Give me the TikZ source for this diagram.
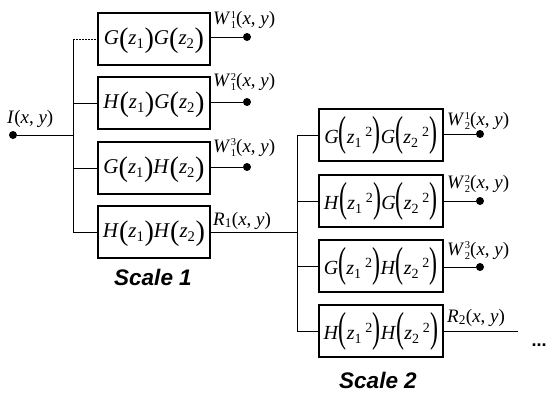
\documentclass[tikz,border=0pt]{standalone}
\usepackage{fontspec}
\usepackage{graphicx}
\setmainfont{Liberation Serif}
\newfontfamily\labsans{Liberation Sans}

% tall parentheses for the filter products
\newcommand\lpa{\raisebox{-3pt}{\scalebox{1.35}[1.35]{(}}}
\newcommand\rpa{\raisebox{-3pt}{\scalebox{1.35}[1.35]{)}}}
\newcommand\lpb{\raisebox{-2pt}{\scalebox{1.2}[2.1]{(}}}
\newcommand\rpb{\raisebox{-2pt}{\scalebox{1.2}[2.1]{)}}}
% stacked sub/superscript
\newcommand\sbsp[2]{\kern0.5pt\raisebox{-4pt}{\shortstack[l]{\fontsize{10.5}{11.5}\selectfont #2\\\fontsize{10.5}{11.5}\selectfont #1}}}
\newcommand\zz[1]{\textit{z}\textsubscript{#1}}
\newcommand\zq[1]{\textit{z}\textsubscript{#1}\,\textsuperscript{2}}

\begin{document}
\begin{tikzpicture}[x=1pt,y=-1pt,
  filt/.style={draw,line width=1.9pt,inner sep=0pt,anchor=north west},
  fa/.style={filt,minimum width=112pt,text height=32pt,text depth=20pt,
    font=\fontsize{21}{21}\selectfont},
  fb/.style={filt,minimum width=124pt,text height=35pt,text depth=17pt,
    font=\fontsize{20}{20}\selectfont},
  wire/.style={line width=0.9pt},
  dot/.style={circle,fill,inner sep=0pt,minimum size=8pt},
  lab/.style={anchor=base west,inner sep=0pt,font=\fontsize{19}{19}\selectfont},
  scl/.style={anchor=base,inner sep=0pt,
    font=\labsans\bfseries\itshape\fontsize{22.5}{22.5}\selectfont}]
\useasboundingbox (0,0) rectangle (551,397);

% first decomposition level
\node[fa] (a1) at (97,12)  {\textit{G}\lpa\zz1\rpa\textit{G}\lpa\zz2\rpa};
\node[fa] (a2) at (97,76)  {\textit{H}\lpa\zz1\rpa\textit{G}\lpa\zz2\rpa};
\node[fa] (a3) at (97,141) {\textit{G}\lpa\zz1\rpa\textit{H}\lpa\zz2\rpa};
\node[fa] (a4) at (97,205) {\textit{H}\lpa\zz1\rpa\textit{H}\lpa\zz2\rpa};

% second decomposition level
\node[fb] (b1) at (318,108) {\textit{G}\lpb\zq1\rpb\textit{G}\lpb\zq2\rpb};
\node[fb] (b2) at (318,174) {\textit{H}\lpb\zq1\rpb\textit{G}\lpb\zq2\rpb};
\node[fb] (b3) at (318,239) {\textit{G}\lpb\zq1\rpb\textit{H}\lpb\zq2\rpb};
\node[fb] (b4) at (318,304) {\textit{H}\lpb\zq1\rpb\textit{H}\lpb\zq2\rpb};

% input and branching points
\node[dot] (in) at (13,135) {};
\coordinate (j1) at (73,135);
\coordinate (j2) at (297,232);

\draw[wire] (in) -- (j1);
\draw[wire] (a1.west -| j1) -- (a4.west -| j1);
\draw[wire,dash pattern=on 2pt off 1pt] (a1.west -| j1) -- (a1.west);
\foreach \n in {a2,a3,a4} \draw[wire] (\n.west -| j1) -- (\n.west);

% first level outputs
\foreach \n/\y in {1/37,2/102,3/167}{
  \node[dot] (w\n) at (247,\y) {};
  \draw[wire] (a\n.east |- w\n) -- (w\n);
}
\draw[wire] (a4.east |- j2) -- (j2);

% second level branching
\draw[wire] (b1.west -| j2) -- (b4.west -| j2);
\foreach \n in {b1,b2,b3,b4} \draw[wire] (\n.west -| j2) -- (\n.west);
\foreach \n/\y in {1/134,2/201,3/267}{
  \node[dot] (v\n) at (480,\y) {};
  \draw[wire] (b\n.east |- v\n) -- (v\n);
}
\coordinate (r2) at (518,330);
\draw[wire] (b4.east) -- (b4.east -| r2);

% labels
\node[lab] (lin) at (7,123) {\textit{I}(\textit{x}, \textit{y})};
\node[lab] (lw1) at (213,24)  {\textit{W}\sbsp{1}{1}(\textit{x}, \textit{y})};
\node[lab] (lw2) at (213,86)  {\textit{W}\sbsp{1}{2}(\textit{x}, \textit{y})};
\node[lab] (lw3) at (213,152) {\textit{W}\sbsp{1}{3}(\textit{x}, \textit{y})};
\node[lab] (lr1) at (213,225) {\textit{R}\textsubscript{1}(\textit{x}, \textit{y})};
\node[lab] (lv1) at (447,125) {\textit{W}\sbsp{2}{1}(\textit{x}, \textit{y})};
\node[lab] (lv2) at (447,188) {\textit{W}\sbsp{2}{2}(\textit{x}, \textit{y})};
\node[lab] (lv3) at (447,255) {\textit{W}\sbsp{2}{3}(\textit{x}, \textit{y})};
\node[lab] (lr2) at (447,322) {\textit{R}\textsubscript{2}(\textit{x}, \textit{y})};
\node[anchor=base,inner sep=0pt,font=\labsans\bfseries\fontsize{18}{18}\selectfont] (more) at (539,346) {...};

\node[scl] (s1) at (153,285) {Scale 1};
\node[scl] (s2) at (378,388) {Scale 2};
\end{tikzpicture}
\end{document}
